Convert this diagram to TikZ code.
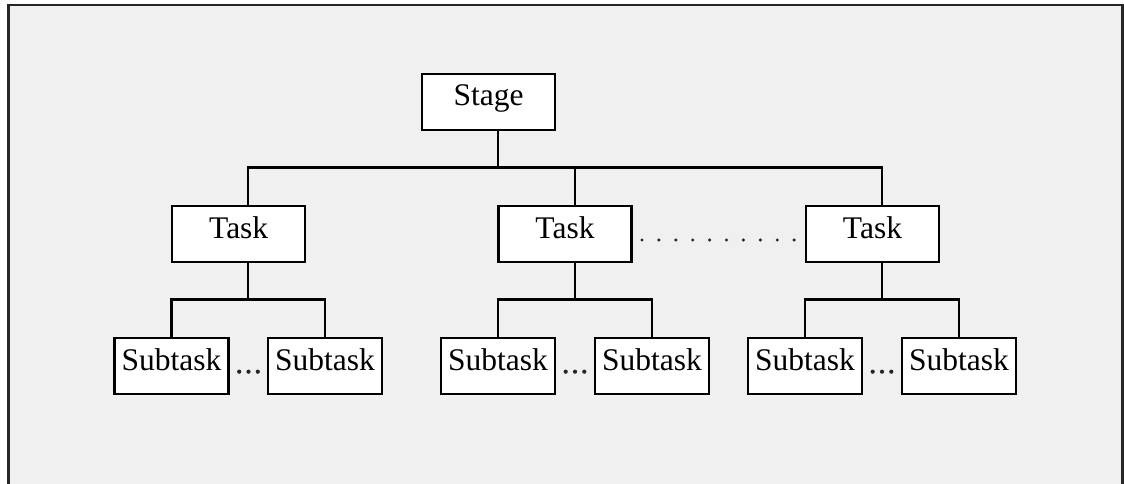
\documentclass[tikz,border=0pt]{standalone}
\usepackage{fontspec}
\setmainfont{Liberation Serif}
\begin{document}
\begin{tikzpicture}[x=1pt,y=-1pt,
  box/.style={draw=black,fill=white,line width=2.2pt,inner sep=0pt,
    text height=32pt,text depth=24pt,align=center,
    font=\fontsize{31.5}{37}\selectfont},
  bigbox/.style={box,minimum width=133pt},
  subbox/.style={box,minimum width=114pt},
  conn/.style={line width=2.2pt,line join=miter},
  dotmark/.style={fill=black!85}]
\useasboundingbox (0,0) rectangle (1124,484);
\fill[white] (0,0) rectangle (1124,484);
\draw[fill={rgb,255:red,240;green,240;blue,240},draw=black!85,line width=2.2pt] (8.5,5) rectangle (1122.5,495);
% nodes
\node[bigbox] (stage) at (488.5,102) {Stage};
\node[bigbox] (t1) at (238.7,234) {Task};
\node[bigbox] (t2) at (565,234) {Task};
\node[bigbox] (t3) at (872.5,234) {Task};
\node[subbox] (s11) at (171.5,366) {Subtask};
\node[subbox] (s12) at (325,366) {Subtask};
\node[subbox] (s21) at (498,366) {Subtask};
\node[subbox] (s22) at (652,366) {Subtask};
\node[subbox] (s31) at (805,366) {Subtask};
\node[subbox] (s32) at (959,366) {Subtask};
% junction coordinates
\coordinate (j0) at (498,167.5);
\coordinate (h1) at (248.3,167.5);
\coordinate (h2) at (575,167.5);
\coordinate (h3) at (882,167.5);
\coordinate (b1) at (248.3,299.5);
\coordinate (b2) at (575,299.5);
\coordinate (b3) at (882,299.5);
% connectors
\draw[conn] (stage.south -| j0) -- (j0);
\draw[conn] (t1.north -| h1) -- (h1) -- (h3) -- (t3.north -| h3);
\draw[conn] (t2.north -| h2) -- (h2);
\draw[conn] (t1.south -| b1) -- (b1);
\draw[conn] (t2.south -| b2) -- (b2);
\draw[conn] (t3.south -| b3) -- (b3);
\draw[conn] (s11.north) |- (b1) -| (s12.north);
\draw[conn] (s21.north) |- (b2) -| (s22.north);
\draw[conn] (s31.north) |- (b3) -| (s32.north);
% dotted gap between tasks
\foreach \i in {0,...,9} \fill[dotmark] (642+\i*16.9,240) circle (1.7);
% small ellipses between subtasks
\foreach \c in {248.5,575,882} {
  \foreach \d in {-9.3,0,9.3} \fill[dotmark] (\c+\d,371.7) circle (2.1);
}
\end{tikzpicture}
\end{document}
